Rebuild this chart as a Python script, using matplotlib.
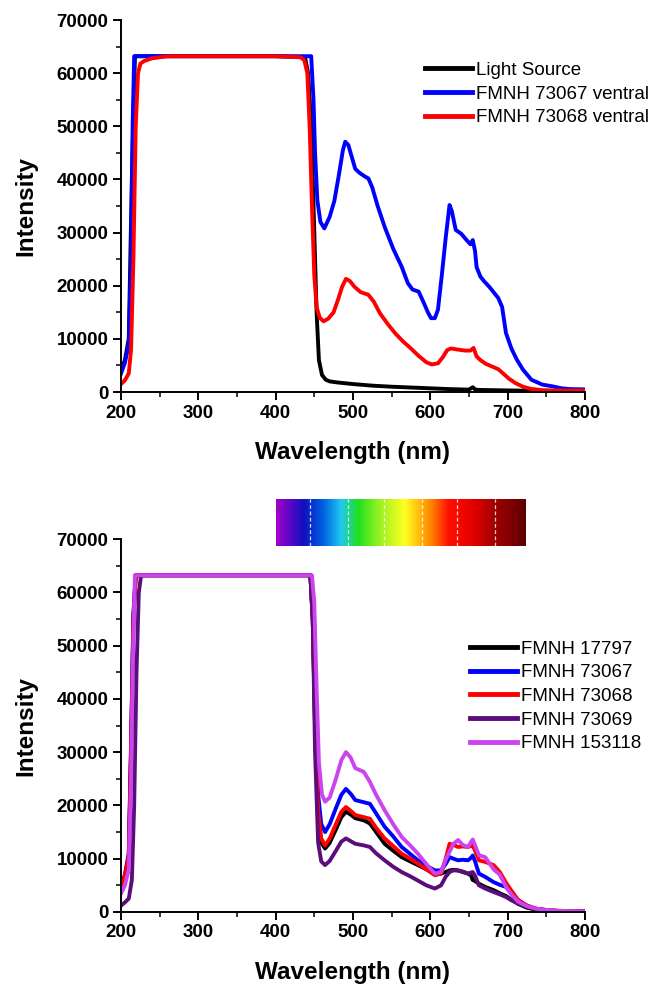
import numpy as np
import matplotlib
matplotlib.use('Agg')
import matplotlib.pyplot as plt
from matplotlib.colors import LinearSegmentedColormap
from matplotlib.ticker import MultipleLocator

plt.rcParams['font.family'] = ['Liberation Sans', 'DejaVu Sans']

# ---- top panel data (wavelength nm, intensity) ----
light_wl = [200, 205, 210, 214, 218, 250, 300, 350, 400, 438, 442, 446, 450, 453, 456, 460, 465, 470,
            480, 500, 525, 550, 575, 600, 625, 650, 655, 658, 662, 700, 750, 800]
light_int = [4000, 6000, 10000, 40000, 63200, 63200, 63200, 63200, 63200, 63000, 60000, 50000, 30000, 15000,
             6000, 3200, 2300, 2000, 1800, 1500, 1200, 1000, 850, 700, 550, 450, 900, 500, 400, 300, 200, 150]

v73067_wl = [200, 205, 210, 213, 215, 217, 250, 300, 350, 400, 446, 449, 451, 454, 458, 463, 470, 476,
             482, 487, 490, 494, 498, 503, 509, 515, 520, 525, 532, 541, 552, 563, 571, 577, 585, 591,
             597, 601, 606, 610, 615, 620, 625, 628, 633, 640, 647, 652, 655, 658, 660, 665, 670, 677,
             683, 688, 693, 698, 705, 712, 720, 731, 745, 758, 770, 780, 800]
v73067_int = [3500, 5500, 9000, 25000, 50000, 63200, 63200, 63200, 63200, 63200, 63200, 55000, 45000,
              36000, 32000, 30800, 33000, 36000, 41000, 45500, 47100, 46500, 44500, 42000, 41200, 40600,
              40200, 38500, 35000, 31100, 27000, 23600, 20500, 19300, 18900, 17000, 15000, 13900, 13900,
              15500, 22000, 29000, 35200, 34000, 30500, 29800, 28600, 27800, 28600, 26500, 23500, 21700,
              20800, 19700, 18600, 17700, 16000, 11100, 8200, 6100, 4200, 2300, 1400, 1070, 700, 560, 500]

v73068_wl = [200, 205, 210, 213, 216, 219, 222, 225, 230, 240, 260, 300, 350, 400, 432, 437, 441, 444,
             447, 450, 453, 457, 462, 468, 475, 481, 486, 491, 496, 502, 510, 520, 527, 535, 545, 555,
             565, 575, 585, 595, 602, 610, 616, 622, 627, 635, 645, 652, 656, 660, 665, 672, 680, 688,
             695, 702, 710, 720, 730, 745, 760, 800]
v73068_int = [1500, 2200, 3500, 8000, 25000, 50000, 60000, 61800, 62300, 62800, 63200, 63200, 63200, 63200,
              63000, 62500, 60000, 50000, 35000, 22000, 16000, 14000, 13300, 13800, 15000, 17500, 19800,
              21300, 20900, 19800, 18800, 18300, 17000, 14800, 12800, 11000, 9500, 8200, 6800, 5600, 5200,
              5400, 6500, 7900, 8200, 8000, 7800, 7800, 8300, 6700, 6000, 5300, 4800, 4300, 3400, 2500,
              1700, 1000, 600, 350, 300, 300]

top_series = [
    ('Light Source', light_wl, light_int, 'black'),
    ('FMNH 73067 ventral', v73067_wl, v73067_int, '#0000ff'),
    ('FMNH 73068 ventral', v73068_wl, v73068_int, '#ff0000'),
]

# ---- bottom panel data ----
common_wl = [464, 470, 478, 485, 491, 497, 503, 514, 522, 530, 541, 552, 563, 574, 584, 595, 606, 614,
             620, 625, 630, 636, 642, 649, 653, 655, 658, 663, 671, 682, 690, 698, 705, 714, 725, 736, 750,
             765, 780, 800]

b17797_wl = [200, 205, 210, 213, 216, 219, 250, 300, 350, 400, 445, 448, 451, 455, 459] + common_wl
b17797_int = [4500, 6500, 10000, 30000, 55000, 63200, 63200, 63200, 63200, 63200, 63200, 55000, 35000,
              18000, 13000,
              11900, 13000, 15500, 17800, 18800, 18300, 17600, 17200, 16600, 15000, 12800, 11500, 10300,
              9500, 8800, 8000, 7200, 7200, 7500, 7800, 7900, 7800, 7500, 7200, 6800, 6000, 5800, 5300,
              4700, 4100, 3500, 3000, 2300, 1500, 800, 450, 250, 150, 100, 100]

b73067_wl = [200, 205, 210, 213, 216, 219, 250, 300, 350, 400, 445, 448, 451, 455, 459] + common_wl
b73067_int = [5000, 7000, 11000, 32000, 56000, 63200, 63200, 63200, 63200, 63200, 63200, 55000, 38000,
              22000, 16500,
              15000, 16500, 19500, 22000, 23100, 22200, 21000, 20600, 20300, 18500, 16000, 14200, 12200,
              10900, 9700, 8700, 7800, 7800, 9000, 10300, 10000, 9700, 9800, 9700, 10200, 10600, 9500, 7200,
              6600, 5600, 5100, 4700, 3500, 2200, 1200, 630, 350, 200, 150, 100]

b73068_wl = [200, 205, 210, 213, 216, 219, 250, 300, 350, 400, 445, 448, 451, 455, 459] + common_wl
b73068_int = [4800, 6800, 10500, 31000, 55000, 63200, 63200, 63200, 63200, 63200, 63200, 55000, 35000,
              19000, 13800,
              12500, 13800, 16500, 18800, 19700, 19000, 18200, 17800, 17500, 15800, 13800, 12400, 10950,
              10000, 9100, 8000, 6900, 7200, 10000, 12800, 12600, 12200, 12300, 12200, 12400, 12500, 11500,
              9700, 9400, 8800, 7500, 5500, 4000, 2200, 1200, 630, 350, 200, 150, 100]

b73069_wl = [200, 205, 210, 214, 217, 220, 223, 226, 250, 300, 350, 400, 445, 448, 451, 455, 459] + common_wl
b73069_int = [1200, 1800, 2500, 6000, 20000, 45000, 60000, 63200, 63200, 63200, 63200, 63200, 63200, 55000,
              30000, 13000, 9500,
              8800, 9600, 11500, 13200, 13800, 13300, 12800, 12500, 12200, 11000, 9700, 8500, 7500, 6700,
              5900, 5000, 4400, 5000, 6600, 7500, 7800, 7800, 7600, 7200, 7400, 7500, 6800, 5000, 4400,
              3750, 3300, 2800, 2200, 1560, 1000, 630, 350, 200, 150, 100]

b153118_wl = [200, 205, 210, 213, 215, 218, 250, 300, 350, 400, 447, 450, 453, 456, 460] + common_wl
b153118_int = [3500, 5000, 8000, 25000, 45000, 63200, 63200, 63200, 63200, 63200, 63200, 58000, 42000,
               28000, 22000,
               20700, 21500, 25000, 28500, 30000, 29000, 27000, 26300, 24400, 22000, 19100, 16500, 14100,
               12500, 10950, 9000, 7200, 7500, 9800, 11300, 12800, 13500, 12600, 12200, 13200, 13600, 12500,
               10640, 10300, 8000, 7000, 4700, 3300, 1900, 1100, 630, 400, 250, 150, 100]

bottom_series = [
    ('FMNH 17797', b17797_wl, b17797_int, 'black'),
    ('FMNH 73067', b73067_wl, b73067_int, '#0000ff'),
    ('FMNH 73068', b73068_wl, b73068_int, '#ff0000'),
    ('FMNH 73069', b73069_wl, b73069_int, '#5c0d7c'),
    ('FMNH 153118', b153118_wl, b153118_int, '#cc44ee'),
]

# visible spectrum strip
spec_wl = [400, 435, 460, 483, 505, 530, 565, 600, 621, 655, 681, 720]
spec_colors = ['#a000c8', '#1010c0', '#0060e0', '#20c8f0', '#20e020', '#90f020', '#ffff20', '#ff8000',
               '#ff1000', '#e00000', '#a00000', '#600000']
spec_dash = [444, 492, 538, 587, 632, 680]


def style_axes(ax):
    ax.set_xlim(200, 800)
    ax.set_ylim(0, 70000)
    ax.xaxis.set_major_locator(MultipleLocator(100))
    ax.xaxis.set_minor_locator(MultipleLocator(50))
    ax.yaxis.set_major_locator(MultipleLocator(10000))
    ax.yaxis.set_minor_locator(MultipleLocator(5000))
    for s in ['top', 'right']:
        ax.spines[s].set_visible(False)
    for s in ['left', 'bottom']:
        ax.spines[s].set_linewidth(1.4)
    ax.tick_params(which='major', direction='out', length=6, width=1.4, labelsize=13.5, pad=3)
    ax.tick_params(which='minor', direction='out', length=3.5, width=1.1)
    for lab in ax.get_xticklabels() + ax.get_yticklabels():
        lab.set_fontweight('bold')
    ax.set_xlabel('Wavelength (nm)', fontsize=17.5, fontweight='bold', labelpad=14)
    ax.set_ylabel('Intensity', fontsize=17.5, fontweight='bold', labelpad=14)


def add_legend(ax, x, y):
    leg = ax.legend(loc='upper left', bbox_to_anchor=(x, y), frameon=False, fontsize=13.5,
                    handlelength=2.5, handletextpad=0.25, labelspacing=0.35, borderaxespad=0)
    for h in leg.get_lines():
        h.set_linewidth(3.5)


fig = plt.figure(figsize=(6.56, 9.84), dpi=100)

ax1 = fig.add_axes([0.1845, 0.6016, 0.707, 0.378])
for name, wl, inten, col in top_series:
    ax1.plot(wl, inten, color=col, lw=2.8, label=name)
style_axes(ax1)
add_legend(ax1, 0.639, 0.908)

ax2 = fig.add_axes([0.1845, 0.0732, 0.707, 0.379])
for name, wl, inten, col in bottom_series:
    ax2.plot(wl, inten, color=col, lw=2.8, label=name)
style_axes(ax2)
add_legend(ax2, 0.736, 0.748)

# spectrum strip
cax = fig.add_axes([0.4207, 0.4451, 0.381, 0.0478])
lo, hi = spec_wl[0], spec_wl[-1]
cmap = LinearSegmentedColormap.from_list(
    'spec', [((w - lo) / (hi - lo), c) for w, c in zip(spec_wl, spec_colors)])
grad = np.linspace(lo, hi, 400).reshape(1, -1)
cax.imshow(grad, aspect='auto', cmap=cmap, extent=[lo, hi, 0, 1], vmin=lo, vmax=hi)
for w in spec_dash:
    cax.axvline(w, color='white', lw=0.9, ls=(0, (3, 2)), alpha=0.8)
cax.set_xlim(lo, hi)
cax.axis('off')

fig.savefig('out.png', dpi=100)
